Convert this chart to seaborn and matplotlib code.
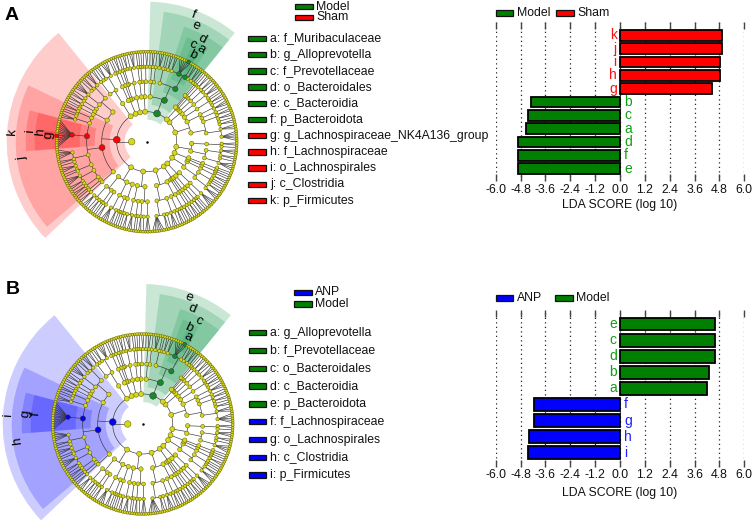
import numpy as np
import pandas as pd
import matplotlib
matplotlib.use("Agg")
import matplotlib.pyplot as plt
import seaborn as sns
from matplotlib.patches import Wedge, Rectangle
from matplotlib.collections import LineCollection

# ---------------- data ----------------
# LDA bar charts
A_bar_labels = ['k', 'j', 'i', 'h', 'g', 'b', 'c', 'a', 'd', 'f', 'e']
A_bar_lda = [4.94, 4.93, 4.82, 4.82, 4.43, -4.30, -4.43, -4.54, -4.93, -4.93, -4.93]
A_bar_group = ['Sham'] * 5 + ['Model'] * 6

B_bar_labels = ['e', 'c', 'd', 'b', 'a', 'f', 'g', 'h', 'i']
B_bar_lda = [4.59, 4.59, 4.59, 4.29, 4.19, -4.14, -4.14, -4.37, -4.45]
B_bar_group = ['Model'] * 5 + ['ANP'] * 4

A_groups = ['Model', 'Sham']
B_groups = ['ANP', 'Model']
lda_ticks = [-6.0, -4.8, -3.6, -2.4, -1.2, 0.0, 1.2, 2.4, 3.6, 4.8, 6.0]

# cladogram biomarkers
A_clade_letters = ['a', 'b', 'c', 'd', 'e', 'f', 'g', 'h', 'i', 'j', 'k']
A_clade_taxa = ['f_Muribaculaceae', 'g_Alloprevotella', 'f_Prevotellaceae', 'o_Bacteroidales',
                'c_Bacteroidia', 'p_Bacteroidota', 'g_Lachnospiraceae_NK4A136_group',
                'f_Lachnospiraceae', 'o_Lachnospirales', 'c_Clostridia', 'p_Firmicutes']
A_clade_group = ['Model'] * 6 + ['Sham'] * 5
A_clade_paths = [(3, 0, 0, 3), (3, 0, 0, 4, 1), (3, 0, 0, 4), (3, 0, 0), (3, 0), (3,),
                 (8, 2, 2, 0, 7), (8, 2, 2, 0), (8, 2, 2), (8, 2), (8,)]

B_clade_letters = ['a', 'b', 'c', 'd', 'e', 'f', 'g', 'h', 'i']
B_clade_taxa = ['g_Alloprevotella', 'f_Prevotellaceae', 'o_Bacteroidales', 'c_Bacteroidia',
                'p_Bacteroidota', 'f_Lachnospiraceae', 'o_Lachnospirales', 'c_Clostridia',
                'p_Firmicutes']
B_clade_group = ['Model'] * 5 + ['ANP'] * 4
B_clade_paths = [(3, 0, 0, 4, 1), (3, 0, 0, 4), (3, 0, 0), (3, 0), (3,),
                 (8, 2, 2, 0), (8, 2, 2), (8, 2), (8,)]

# taxonomy tree: phylum -> classes -> orders -> genera per family
P10 = [[[5, 3, 2, 1], [2, 2]], [[1], [3, 1]], [[2, 1, 1]]]
P9 = [[[3]], [[1, 2]]]
P15 = [[[2]], [[1]], [[1]]]
BACTEROIDOTA = [[[1, 2, 2, 1, 6, 2], [2, 1, 1, 3]], [[1], [2, 1]]]
P1 = [[[2, 1], [1, 1]], [[1]]]
P2 = [[[3, 1, 2], [1]]]
P3 = [[[1]], [[2]], [[1, 1]]]
P4 = [[[4, 2, 1], [2]]]
FIRMICUTES = [[[3, 2, 1], [4, 1], [2]],
              [[2], [1, 1]],
              [[2, 1], [1, 3], [13], [5, 2, 1, 3], [1, 1], [4, 2], [1, 2, 1], [1]],
              [[2]]]
P5 = [[[3, 1, 2], [1, 1], [2]], [[4, 2], [1]], [[1, 1, 1]]]
P6 = [[[2, 3], [1]], [[1, 2, 1], [3]]]
P7 = [[[6, 2, 1], [3, 1]], [[2], [1, 1, 2]]]
P8 = [[[1]], [[2]], [[1]]]
P11 = [[[2, 1], [1]], [[4]]]
P12 = [[[3, 2], [1, 1, 1]], [[2, 1]]]
P13 = [[[1]], [[1, 1]]]
P14 = [[[4, 1], [2, 3]], [[1, 2]]]
PHYLA = [P10, P9, P15, BACTEROIDOTA, P1, P2, P3, P4, FIRMICUTES,
         P5, P6, P7, P8, P11, P12, P13, P14]

# ---------------- style ----------------
GROUP_COLOR = {'Model': '#008000', 'Sham': '#ff0000', 'ANP': '#0000ff'}
LETTER_COLOR = {'Model': '#10a010', 'Sham': '#ff1010', 'ANP': '#2020ff'}
NODE_COLOR = {'Model': '#168a2a', 'Sham': '#ff0000', 'ANP': '#0000ee'}
WEDGE_COLOR = {'Model': '#2ca25f', 'Sham': '#ff0000', 'ANP': '#0000ff'}
WEDGE_ALPHA = {'Model': 0.25, 'Sham': 0.2, 'ANP': 0.2}

RING = [15, 30, 45, 60, 75, 90]
WEDGE_R = [0, 140, 131, 121, 112, 103]
LABEL_R = [0, 135, 126, 117, 107, 98]
NODE_D = [6.5, 5.0, 4.4, 3.9, 3.4, 2.9]
START, STEP, MIN_SPAN = 0.0, 1.5, 5.0

sns.set_theme(style='white')
plt.rcParams['font.family'] = ['Liberation Sans', 'DejaVu Sans']

W, H = 754, 523
fig = plt.figure(figsize=(W / 100, H / 100), dpi=100)
fig.patch.set_facecolor('white')


def px_axes(left, top, width, height, **kw):
    return fig.add_axes([left / W, 1 - (top + height) / H, width / W, height / H], **kw)


def layout_tree():
    nodes = {}
    count = [0]

    def add(spec, path, level):
        if level == 5:
            th = START + STEP * (count[0] + 0.5)
            count[0] += 1
            nodes[path] = dict(level=5, th=th, lo=th, hi=th, kids=[])
            return
        kid_specs = [None] * spec if level == 4 else spec
        kids = []
        for k, c in enumerate(kid_specs):
            add(c, path + (k,), level + 1)
            kids.append(path + (k,))
        lo, hi = nodes[kids[0]]['lo'], nodes[kids[-1]]['hi']
        nodes[path] = dict(level=level, th=(lo + hi) / 2, lo=lo, hi=hi, kids=kids)

    add(PHYLA, (), 0)
    return nodes


def xy(th, r):
    t = np.deg2rad(th)
    return r * np.cos(t), r * np.sin(t)


def arc(a0, a1, r):
    n = max(2, int(abs(a1 - a0) / 0.5) + 1)
    t = np.deg2rad(np.linspace(a0, a1, n))
    return np.column_stack([r * np.cos(t), r * np.sin(t)])


def draw_clado(ax, nodes, letters, paths, groups):
    hl = {p: g for p, g in zip(paths, groups)}
    # highlight wedges (outer clades first)
    order = sorted(range(len(paths)), key=lambda i: len(paths[i]))
    for i in order:
        nd = nodes[paths[i]]
        lv = nd['level']
        lo, hi = nd['lo'] - STEP / 2, nd['hi'] + STEP / 2
        if hi - lo < MIN_SPAN:
            c = (lo + hi) / 2
            lo, hi = c - MIN_SPAN / 2, c + MIN_SPAN / 2
        r_out, r_in = WEDGE_R[lv], RING[lv] - 8
        g = groups[i]
        ax.add_patch(Wedge((0, 0), r_out, lo, hi, width=r_out - r_in,
                           facecolor=WEDGE_COLOR[g], alpha=WEDGE_ALPHA[g],
                           edgecolor='none', zorder=1))
        x, y = xy(nd['th'], LABEL_R[lv])
        ax.text(x, y, letters[i], rotation=nd['th'] - 90, rotation_mode='anchor',
                ha='center', va='center', fontsize=9.5, color='black', zorder=6)
    # branches
    segs = []
    for path, nd in nodes.items():
        lv = nd['level']
        if lv == 5:
            continue
        r0, r1 = RING[lv], RING[lv + 1]
        if lv < 4:
            segs.append(np.array([xy(nd['th'], r0), xy(nd['th'], r1)]))
            if lv == 0:
                segs.append(arc(0, 360, r1))
            else:
                ths = [nodes[k]['th'] for k in nd['kids']] + [nd['th']]
                if max(ths) - min(ths) > 0.01:
                    segs.append(arc(min(ths), max(ths), r1))
        else:
            for k in nd['kids']:
                segs.append(np.array([xy(nd['th'], r0), xy(nodes[k]['th'], r1)]))
    ax.add_collection(LineCollection(segs, colors='#333333', linewidths=0.45, zorder=2))
    # nodes
    for highlighted in (False, True):
        xs, ys, ss, fc = [], [], [], []
        for path, nd in nodes.items():
            is_hl = path in hl
            if is_hl != highlighted:
                continue
            lv = nd['level']
            x, y = xy(nd['th'], RING[lv])
            d = NODE_D[lv] * (1.35 if is_hl else 1.0)
            xs.append(x); ys.append(y); ss.append((d * 0.72) ** 2)
            fc.append(NODE_COLOR[hl[path]] if is_hl else '#d6d61e')
        ax.scatter(xs, ys, s=ss, c=fc, edgecolors='#5c5c00' if not highlighted else '#333333',
                   linewidths=0.35, zorder=3 if not highlighted else 4)
    ax.scatter([0], [0], s=0.6, c='black', zorder=4)


def clado_axes(left, top, width, height, cx, cy):
    ax = px_axes(left, top, width, height)
    ax.set_xlim(-(cx - left), left + width - cx)
    ax.set_ylim(-(top + height - cy), cy - top)
    ax.set_axis_off()
    ax.patch.set_alpha(0)
    return ax


nodes = layout_tree()
axA = clado_axes(0, 0, 292, 268, 146.7, 141.7)
draw_clado(axA, nodes, A_clade_letters, A_clade_paths, A_clade_group)
axB = clado_axes(0, 268, 292, 255, 142.7, 424.0)
draw_clado(axB, nodes, B_clade_letters, B_clade_paths, B_clade_group)


def draw_bars(ax, labels, vals, groups, ylim, tick_pad, label_pad):
    df = pd.DataFrame({'label': labels, 'lda': vals, 'group': groups})
    sns.barplot(data=df, x='lda', y='label', hue='group', order=labels,
                palette=GROUP_COLOR, dodge=False, orient='h', ax=ax, legend=False,
                edgecolor='black', linewidth=1.3, width=0.8, saturation=1)
    ax.set_xlim(-6, 6)
    ax.set_ylim(*ylim)
    ax.set_xticks(lda_ticks)
    ax.set_xticklabels([f'{t:.1f}' for t in lda_ticks])
    ax.set_yticks([])
    ax.set_ylabel('')
    ax.set_xlabel('LDA SCORE (log 10)', fontsize=8.8, labelpad=label_pad, color='#111111')
    for s in ax.spines.values():
        s.set_visible(False)
    ax.set_axisbelow(True)
    ax.xaxis.grid(True, linestyle=(0, (1, 2.6)), color='#222222', linewidth=0.9)
    ax.tick_params(axis='x', which='both', top=True, bottom=True, direction='in',
                   length=5, width=1.0, color='#444444', labelsize=8.8, pad=tick_pad,
                   labelcolor='#111111')
    ax.patch.set_alpha(0)
    for i, (l, v, g) in enumerate(zip(labels, vals, groups)):
        if v > 0:
            ax.text(-0.16, i, l, ha='right', va='center', color=LETTER_COLOR[g], fontsize=10)
        else:
            ax.text(0.19, i, l, ha='left', va='center', color=LETTER_COLOR[g], fontsize=10)


barA = px_axes(495.7, 22, 248.6, 159)
draw_bars(barA, A_bar_labels, A_bar_lda, A_bar_group, (10.92, -1.0), 2.5, 1.5)
barB = px_axes(495.7, 310, 248.6, 157)
draw_bars(barB, B_bar_labels, B_bar_lda, B_bar_group, (8.89, -0.87), 1.5, 4.5)

# overlay for legends and panel letters (pixel coordinates)
ov = fig.add_axes([0, 0, 1, 1], zorder=10)
ov.set_xlim(0, W)
ov.set_ylim(H, 0)
ov.set_axis_off()
ov.patch.set_alpha(0)


def legend_item(x, y, w, h, color, text, tx, fs):
    ov.add_patch(Rectangle((x, y - h / 2), w, h, facecolor=color, edgecolor='#111111', lw=0.9))
    ov.text(tx, y, text, ha='left', va='center', fontsize=fs, color='#111111')


# panel A legends
for k, g in enumerate(A_groups):
    legend_item(295, 6.7 + 10.6 * k, 17.7, 5.5, GROUP_COLOR[g], g, 316, 8.8)
for k, (l, t, g) in enumerate(zip(A_clade_letters, A_clade_taxa, A_clade_group)):
    legend_item(248.3, 38.3 + 16.24 * k, 18.0, 5.5, GROUP_COLOR[g], f'{l}: {t}', 270, 8.8)
for k, (g, x) in enumerate(zip(A_groups, [495.7, 556])):
    legend_item(x, 13.3, 17.5, 6, GROUP_COLOR[g], g, x + 21, 8.8)

# panel B legends
for k, g in enumerate(B_groups):
    legend_item(294, 292.3 + 11.7 * k, 17.7, 5.5, GROUP_COLOR[g], g, 315, 8.8)
for k, (l, t, g) in enumerate(zip(B_clade_letters, B_clade_taxa, B_clade_group)):
    legend_item(249.3, 332.7 + 17.8 * k, 17.0, 5.5, GROUP_COLOR[g], f'{l}: {t}', 270.5, 8.8)
for k, (g, x) in enumerate(zip(B_groups, [495.7, 555])):
    legend_item(x, 298.3, 17.5, 6, GROUP_COLOR[g], g, x + 21, 8.8)

ov.text(11.5, 15, 'A', ha='center', va='center', fontsize=14, fontweight='bold', color='black')
ov.text(12.5, 290, 'B', ha='center', va='center', fontsize=14, fontweight='bold', color='black')

fig.savefig('out.png', dpi=100)
